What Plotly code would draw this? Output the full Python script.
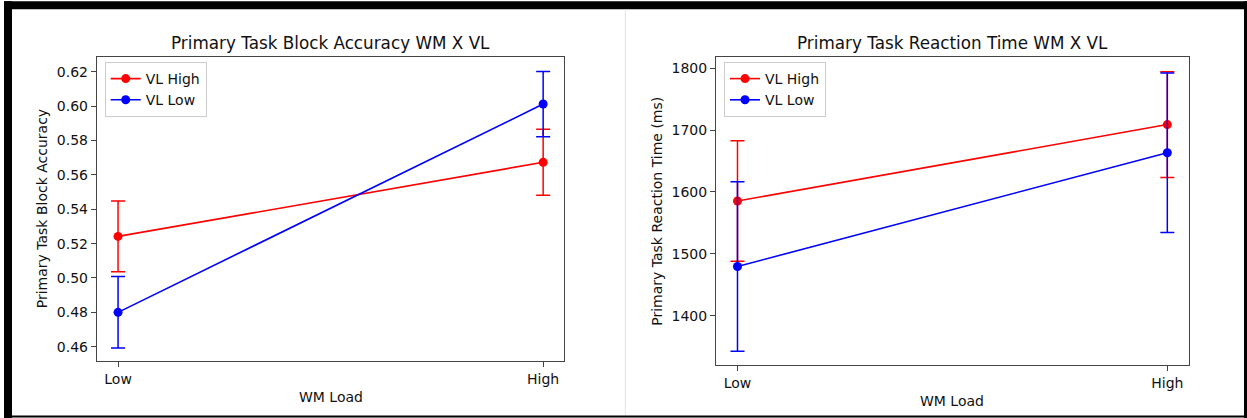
import plotly.graph_objects as go

W, H = 1247, 418

wm_load = ["Low", "High"]
x_pos = [0, 1]

acc_vl_high = [0.5242, 0.5673]
acc_vl_high_err = [0.0206, 0.0192]
acc_vl_low = [0.4800, 0.6012]
acc_vl_low_err = [0.0208, 0.0190]

rt_vl_high = [1585.5, 1709.0]
rt_vl_high_err = [97.5, 85.5]
rt_vl_low = [1479.5, 1663.5]
rt_vl_low_err = [137.0, 129.0]

acc_ticks = [0.46, 0.48, 0.50, 0.52, 0.54, 0.56, 0.58, 0.60, 0.62]
rt_ticks = [1400, 1500, 1600, 1700, 1800]

RED = "#ff0000"
BLUE = "#0000ff"
FONT = "DejaVu Sans"
TXT = "#111111"
BASE = 14
TITLE = 16.8


def px(x):
    return x / W


def py(y):
    return 1 - y / H


fig = go.Figure()


def add_series(y, err, name, color, xa, ya, legend):
    fig.add_trace(go.Scatter(
        x=x_pos, y=y, name=name, mode="lines+markers",
        line=dict(color=color, width=1.6),
        marker=dict(color=color, size=9),
        error_y=dict(type="data", array=err, visible=True, color=color,
                     thickness=1.5, width=7),
        xaxis=xa, yaxis=ya, legend=legend,
    ))


add_series(acc_vl_high, acc_vl_high_err, "VL High", RED, "x", "y", "legend")
add_series(acc_vl_low, acc_vl_low_err, "VL Low", BLUE, "x", "y", "legend")
add_series(rt_vl_high, rt_vl_high_err, "VL High", RED, "x2", "y2", "legend2")
add_series(rt_vl_low, rt_vl_low_err, "VL Low", BLUE, "x2", "y2", "legend2")

axis_common = dict(
    showgrid=False, zeroline=False, showline=True, mirror=True,
    linecolor="#444444", linewidth=1, ticks="outside", ticklen=5,
    tickwidth=1, tickcolor="#444444",
    tickfont=dict(family=FONT, size=BASE, color=TXT),
)

legend_common = dict(
    xanchor="left", yanchor="top",
    bordercolor="#cccccc", borderwidth=1, bgcolor="white",
    font=dict(family=FONT, size=BASE, color=TXT),
    itemwidth=30, tracegroupgap=0,
)

fig.update_layout(
    width=W, height=H,
    margin=dict(l=0, r=0, t=0, b=0),
    paper_bgcolor="white", plot_bgcolor="white",
    showlegend=True,
    font=dict(family=FONT, size=BASE, color=TXT),
    xaxis=dict(domain=[px(96.8), px(564.4)], anchor="y", range=[-0.05, 1.05],
               tickmode="array", tickvals=x_pos, ticktext=wm_load, **axis_common),
    yaxis=dict(domain=[py(361), py(57.3)], anchor="x", range=[0.4517, 0.6284],
               tickmode="array", tickvals=acc_ticks,
               ticktext=[f"{v:.2f}" for v in acc_ticks], **axis_common),
    xaxis2=dict(domain=[px(716), px(1188.8)], anchor="y2", range=[-0.05, 1.05],
                tickmode="array", tickvals=x_pos, ticktext=wm_load, **axis_common),
    yaxis2=dict(domain=[py(365), py(57.3)], anchor="x2", range=[1320.2, 1817.8],
                tickmode="array", tickvals=rt_ticks,
                ticktext=[str(v) for v in rt_ticks], **axis_common),
    legend=dict(x=px(104.7), y=py(62), **legend_common),
    legend2=dict(x=px(724), y=py(62), **legend_common),
)

annotations = [
    dict(text="Primary Task Block Accuracy WM X VL", x=px(330.6), y=py(43),
         font=dict(size=TITLE)),
    dict(text="Primary Task Reaction Time WM X VL", x=px(952.4), y=py(43),
         font=dict(size=TITLE)),
    dict(text="WM Load", x=px(330.6), y=py(397), font=dict(size=BASE)),
    dict(text="WM Load", x=px(952.4), y=py(401), font=dict(size=BASE)),
    dict(text="Primary Task Block Accuracy", x=px(42.3), y=py(209),
         textangle=-90, font=dict(size=BASE)),
    dict(text="Primary Task Reaction Time (ms)", x=px(656.8), y=py(211),
         textangle=-90, font=dict(size=BASE)),
]
for a in annotations:
    a.update(xref="paper", yref="paper", xanchor="center", yanchor="middle",
             showarrow=False)
    a["font"].update(family=FONT, color=TXT)
fig.update_layout(annotations=annotations)

# black frame around the picture and light divider between the panels
shapes = [
    dict(x0=px(4), x1=px(1247), y0=py(9.3), y1=py(1.3)),
    dict(x0=px(4), x1=px(12), y0=py(418), y1=py(1.3)),
    dict(x0=px(1244), x1=px(1247), y0=py(418), y1=py(1.3)),
    dict(x0=px(4), x1=px(1247), y0=py(417.5), y1=py(415.5)),
]
for s in shapes:
    s.update(type="rect", xref="paper", yref="paper", fillcolor="black",
             line=dict(width=0), layer="above")
shapes.append(dict(type="line", xref="paper", yref="paper",
                   x0=px(625.3), x1=px(625.3), y0=py(415), y1=py(9.5),
                   line=dict(color="#e3e3e3", width=1)))
fig.update_layout(shapes=shapes)

fig.write_html("out.html")
